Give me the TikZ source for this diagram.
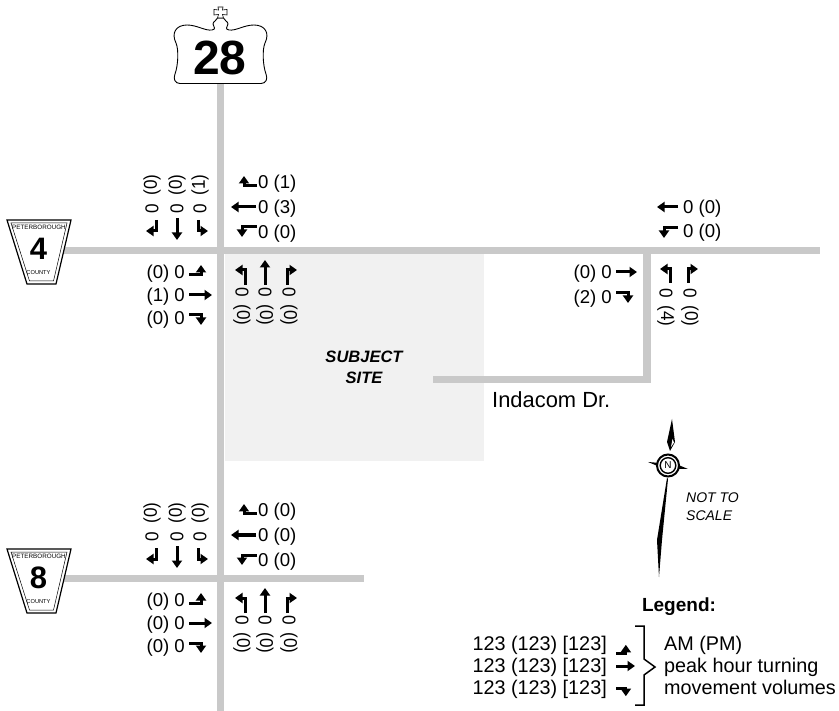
\documentclass[tikz,border=0pt]{standalone}
\usepackage{fontspec}
\setmainfont{Liberation Sans}
\newfontfamily\narrowfont[FakeStretch=0.92]{Liberation Sans}
\usetikzlibrary{arrows.meta}
\definecolor{roadgray}{HTML}{C9C9C9}
\definecolor{sitegray}{HTML}{F1F1F1}
\tikzset{
    road/.style={line width=7.5pt, roadgray},
    vol/.style={font=\fontsize{18.6}{18.6}\selectfont, inner sep=0pt},
    volup/.style={font=\narrowfont\fontsize{18.6}{18.6}\selectfont, inner sep=0pt, rotate=90},
    voldown/.style={font=\narrowfont\fontsize{18.6}{18.6}\selectfont, inner sep=0pt, rotate=-90},
    legendtext/.style={font=\fontsize{19.8}{19.8}\selectfont, inner sep=0pt},
    turnline/.style={line width=3pt, -{Stealth[length=7.5pt,width=10pt,inset=0pt]}},
    pics/leftturn/.style={code={\draw[turnline] (0,0) -- (#1,0) -- (#1,-10);}},
    pics/leftturn/.default=12,
    pics/rightturn/.style={code={\draw[turnline] (0,0) -- (#1,0) -- (#1,10);}},
    pics/rightturn/.default=12,
    pics/thruturn/.style={code={\draw[turnline] (0,0) -- (#1,0);}},
    pics/thruturn/.default=23,
    pics/countyshield/.style={code={
        \draw[line width=1.2pt, fill=white] (7,220) -- (71,220) -- (56,284) -- (27,284) -- cycle;
        \draw[line width=.5pt] (11,223) -- (67,223) -- (53.5,281) -- (29.5,281) -- cycle;
        \node[inner sep=0pt, font=\fontsize{6.3}{6.3}\selectfont] (-top) at (39,227) {PETERBOROUGH};
        \node[inner sep=0pt, font=\fontsize{31}{31}\selectfont\bfseries] (-num) at (38.5,249) {#1};
        \node[inner sep=0pt, font=\fontsize{5.7}{5.7}\selectfont] (-bot) at (38.5,273) {COUNTY};
    }},
}
\begin{document}
\begin{tikzpicture}[x=1pt, y=-1pt]
    \useasboundingbox (0,0) rectangle (839,711);
    % site and roads
    \fill[sitegray] (225,254) rectangle (484,461);
    \draw[road] (220.5,80) -- (220.5,711);
    \draw[road] (63,250.5) -- (820,250.5);
    \draw[road] (63,578.5) -- (364,578.5);
    \draw[road] (647,254) -- (647,379.5) -- (433,379.5);
    % highway shield
    \draw[line width=.9pt, fill=white] (180,83.5) -- (261,83.5)
        .. controls (266,83.5) and (268,79) .. (266,74)
        .. controls (263,66) and (262,50) .. (265,43)
        .. controls (270,33) and (265,25) .. (254,25)
        .. controls (244,25) and (236,31) .. (229,30)
        .. controls (224,29) and (228,27) .. (228,24)
        .. controls (228,21) and (224,21) .. (223.5,18)
        -- (217.5,18)
        .. controls (217,21) and (213,21) .. (213,24)
        .. controls (213,27) and (217,29) .. (212,30)
        .. controls (205,31) and (197,25) .. (187,25)
        .. controls (176,25) and (171,33) .. (176,43)
        .. controls (179,50) and (178,66) .. (175,74)
        .. controls (173,79) and (175,83.5) .. (180,83.5) -- cycle;
    \draw[line width=.6pt, fill=white] (218,7) -- (223,7) -- (222.5,10) -- (227,9.5) -- (227,15)
        -- (222.5,14.5) -- (223.5,18) -- (217.5,18) -- (218.5,14.5) -- (214,15) -- (214,9.5) -- (218.5,10) -- cycle;
    \node[inner sep=0pt, font=\fontsize{48}{48}\selectfont\bfseries] (hwy) at (220,57.5) {28};
    \pic (countyfour) at (0,0) {countyshield=4};
    \pic (countyeight) at (0,329) {countyshield=8};
    % crossings on the highway
    \foreach \cr/\dy/\sa/\sb/\sc/\wa/\wb/\wc/\ea/\eb/\ec in {top/0/0/0/1/1/3/0/0/1/0, low/328/0/0/0/0/0/0/0/0/0}{
        \begin{scope}[shift={(0,\dy)}]
            \node[volup] (\cr sa) at (152,209) {0};
            \node[volup] (\cr sb) at (177,209) {0};
            \node[volup] (\cr sc) at (200,209) {0};
            \node[volup] (\cr sap) at (152,185) {(\sa)};
            \node[volup] (\cr sbp) at (177,185) {(\sb)};
            \node[volup] (\cr scp) at (200,185) {(\sc)};
            \pic[rotate=-90] at (156,220) {rightturn=11};
            \pic[rotate=-90] at (177,218) {thruturn=22};
            \pic[rotate=-90] at (198,220) {leftturn=11};
            \node[vol, anchor=base west] (\cr wa) at (258,188.5) {0 (\wa)};
            \node[vol, anchor=base west] (\cr wb) at (258,213.5) {0 (\wb)};
            \node[vol, anchor=base west] (\cr wc) at (258,238.5) {0 (\wc)};
            \pic[rotate=180] at (257,186) {rightturn=13};
            \pic[rotate=180] at (256,207) {thruturn=25};
            \pic[rotate=180] at (257,227) {leftturn=15};
            \node[vol, anchor=base east] (\cr ea) at (185,278.5) {(\ea) 0};
            \node[vol, anchor=base east] (\cr eb) at (185,301.5) {(\eb) 0};
            \node[vol, anchor=base east] (\cr ec) at (185,324.5) {(\ec) 0};
            \pic at (189,275) {leftturn};
            \pic at (189,295) {thruturn};
            \pic at (189,315) {rightturn};
            \foreach \col/\xx in {a/242,b/265,c/289}{
                \node[voldown] (\cr n\col) at (\xx,292) {0};
                \node[voldown] (\cr n\col p) at (\xx,315) {(0)};
            }
            \pic[rotate=90] at (245,285) {leftturn=15};
            \pic[rotate=90] at (265,285) {thruturn=25};
            \pic[rotate=90] at (287,285) {rightturn=15};
        \end{scope}
    }
    % Indacom approach
    \pic[rotate=180] at (678,207) {thruturn=21};
    \pic[rotate=180] at (678,228) {leftturn=14};
    \node[vol, anchor=base west] (ewa) at (683,213.5) {0 (0)};
    \node[vol, anchor=base west] (ewb) at (683,238) {0 (0)};
    \node[vol, anchor=base east] (eea) at (612,278.5) {(0) 0};
    \node[vol, anchor=base east] (eeb) at (612,303.5) {(2) 0};
    \pic at (616,272) {thruturn=21};
    \pic at (616,293) {rightturn};
    \node[voldown] (ena) at (666,293) {0};
    \node[voldown] (enb) at (690,293) {0};
    \node[voldown] (enap) at (666,316) {(4)};
    \node[voldown] (enbp) at (690,316) {(0)};
    \pic[rotate=90] at (670,283) {leftturn=14};
    \pic[rotate=90] at (688,283) {rightturn=14};
    % labels
    \node[inner sep=0pt, font=\fontsize{16.5}{16.5}\selectfont\bfseries\itshape] (subject) at (364,357) {SUBJECT};
    \node[inner sep=0pt, font=\fontsize{16.5}{16.5}\selectfont\bfseries\itshape] (site) at (364,378) {SITE};
    \node[inner sep=0pt, anchor=base west, font=\fontsize{21.9}{21.9}\selectfont] (indacom) at (492,407.5) {Indacom Dr.};
    % north arrow
    \fill (672,419) -- (675,442) -- (670,451) -- (667,442) -- cycle;
    \fill[white] (672.5,439) -- (674,442.5) -- (671,447) -- cycle;
    \fill (648,462) -- (660,463) -- (660,467) -- cycle;
    \fill (688,469) -- (676,464) -- (676,469) -- cycle;
    \fill (667,478) -- (668,479) -- (662,540) -- (659,577) -- (657,540) -- cycle;
    \draw[line width=2pt, fill=white] (668,465.5) circle (11);
    \draw[line width=1.4pt] (668,465.5) circle (7.8);
    \node[inner sep=0pt, font=\fontsize{10}{10}\selectfont] (north) at (668,465.5) {N};
    \node[inner sep=0pt, anchor=base west, font=\fontsize{14}{14}\selectfont\itshape] (notto) at (686,503) {NOT TO};
    \node[inner sep=0pt, anchor=base west, font=\fontsize{14}{14}\selectfont\itshape] (scale) at (686,521) {SCALE};
    % legend
    \node[inner sep=0pt, font=\fontsize{19}{19}\selectfont\bfseries] (legend) at (679,607) {Legend:};
    \foreach \n/\yy in {la/650,lb/672,lc/694}{
        \node[legendtext, anchor=base east] (\n) at (607,\yy) {123 (123) [123]};
    }
    \pic[scale=.82] at (616,653) {leftturn};
    \pic at (616,666) {thruturn=19};
    \pic[scale=.82] at (616,688) {rightturn};
    \draw[line width=1.5pt] (635,626) -- (644,626) -- (644,659) -- (655,667) -- (644,675) -- (644,705) -- (635,705);
    \node[legendtext, anchor=base west] (lam) at (664,650) {AM (PM)};
    \node[legendtext, anchor=base west] (lpeak) at (664,672) {peak hour turning};
    \node[legendtext, anchor=base west] (lmove) at (664,694) {movement volumes};
\end{tikzpicture}
\end{document}
